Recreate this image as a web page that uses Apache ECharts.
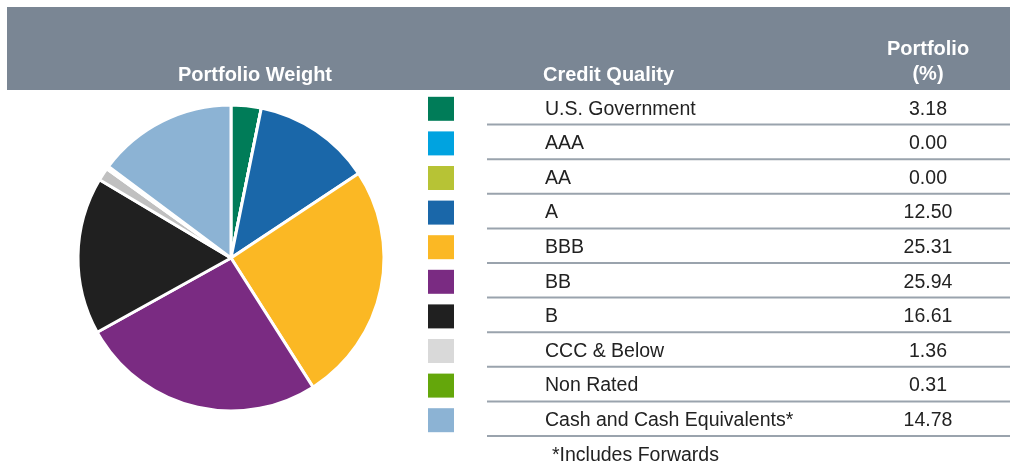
<!DOCTYPE html>
<html>
<head>
<meta charset="utf-8">
<script src="https://cdn.jsdelivr.net/npm/echarts@6/dist/echarts.min.js"></script>
<style>
  html, body { margin: 0; padding: 0; background: #fff; }
  #chart { width: 1010px; height: 465px; }
</style>
</head>
<body>
<div id="chart"></div>
<script>
var categories = ['U.S. Government', 'AAA', 'AA', 'A', 'BBB', 'BB', 'B', 'CCC & Below', 'Non Rated', 'Cash and Cash Equivalents*'];
var weights = [3.18, 0.00, 0.00, 12.50, 25.31, 25.94, 16.61, 1.36, 0.31, 14.78];
var weightLabels = ['3.18', '0.00', '0.00', '12.50', '25.31', '25.94', '16.61', '1.36', '0.31', '14.78'];
var keyColors = ['#007c58', '#00a3e0', '#b7c335', '#1a67a9', '#fbb824', '#7a2b82', '#202020', '#d9d9d9', '#64a70b', '#8cb3d4'];
var sliceColors = ['#007c58', '#00a3e0', '#b7c335', '#1a67a9', '#fbb824', '#7a2b82', '#202020', '#c0c0c0', '#64a70b', '#8cb3d4'];

var chart = echarts.init(document.getElementById('chart'));

var font = '"Liberation Sans", Arial, sans-serif';
var rowTop = 90;
var rowH = 34.6;

var graphics = [
    {
        type: 'rect',
        shape: { x: 7, y: 7, width: 1003, height: 83 },
        style: { fill: '#7a8694' },
        z: 0
    },
    {
        type: 'text', x: 255, y: 75,
        style: { text: 'Portfolio Weight', fill: '#fff', font: 'bold 20px ' + font, align: 'center', verticalAlign: 'middle' }
    },
    {
        type: 'text', x: 543, y: 75,
        style: { text: 'Credit Quality', fill: '#fff', font: 'bold 20px ' + font, align: 'left', verticalAlign: 'middle' }
    },
    {
        type: 'text', x: 928, y: 49,
        style: { text: 'Portfolio', fill: '#fff', font: 'bold 20px ' + font, align: 'center', verticalAlign: 'middle' }
    },
    {
        type: 'text', x: 928, y: 74,
        style: { text: '(%)', fill: '#fff', font: 'bold 20px ' + font, align: 'center', verticalAlign: 'middle' }
    },
    {
        type: 'text', x: 552, y: 456,
        style: { text: '*Includes Forwards', fill: '#222', font: '19.5px ' + font, align: 'left', verticalAlign: 'middle' }
    }
];

categories.forEach(function (name, i) {
    var mid = rowTop + rowH * i + rowH / 2;
    graphics.push({
        type: 'rect',
        shape: { x: 428, y: mid - 10.5, width: 26, height: 24 },
        style: { fill: keyColors[i] }
    });
    graphics.push({
        type: 'text', x: 545, y: mid + 2,
        style: { text: name, fill: '#222', font: '19.5px ' + font, align: 'left', verticalAlign: 'middle' }
    });
    graphics.push({
        type: 'text', x: 928, y: mid + 2,
        style: { text: weightLabels[i], fill: '#222', font: '19.5px ' + font, align: 'center', verticalAlign: 'middle' }
    });
    graphics.push({
        type: 'line',
        shape: { x1: 487, y1: rowTop + rowH * (i + 1), x2: 1010, y2: rowTop + rowH * (i + 1) },
        style: { stroke: '#9aa3ad', lineWidth: 2 }
    });
});

var pieData = [];
categories.forEach(function (name, i) {
    pieData.push({ name: name, value: weights[i], itemStyle: { color: sliceColors[i] } });
});

var option = {
    animation: false,
    graphic: graphics,
    series: [
        {
            type: 'pie',
            center: [231, 258],
            radius: [0, 153],
            startAngle: 90,
            clockwise: true,
            label: { show: false },
            labelLine: { show: false },
            emphasis: { disabled: true },
            itemStyle: { borderColor: '#fff', borderWidth: 3 },
            data: pieData
        }
    ]
};
chart.setOption(option);
</script>
</body>
</html>
